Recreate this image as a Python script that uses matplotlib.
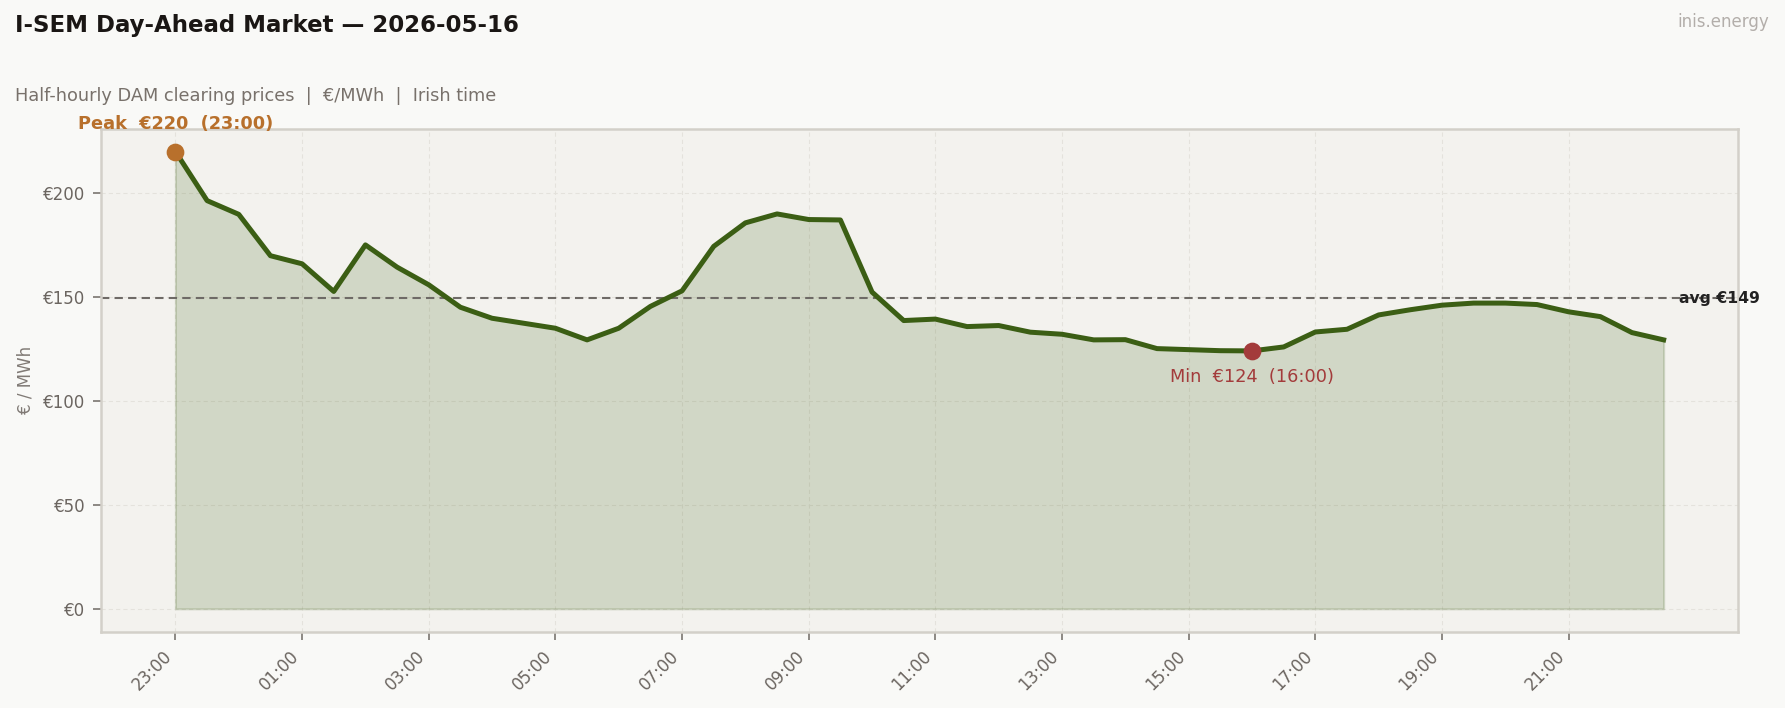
import numpy as np
import pandas as pd
import matplotlib
matplotlib.use("Agg")
import matplotlib.pyplot as plt
import matplotlib.dates as mdates
import matplotlib.transforms as mtransforms

# Half-hourly DAM prices (EUR/MWh), trading day starting 23:00
start = "2026-05-15 23:00"
prices = [
    220.0, 196.4, 189.8, 169.9, 166.0, 152.7, 175.1, 164.4, 155.9, 145.1,
    139.8, 137.4, 135.0, 129.4, 135.0, 145.5, 153.0, 174.4, 185.7, 190.0,
    187.3, 187.1, 152.4, 138.7, 139.4, 135.8, 136.3, 133.1, 132.1, 129.4,
    129.5, 125.2, 124.7, 124.2, 124.1, 126.0, 133.2, 134.5, 141.4, 143.9,
    146.1, 147.1, 147.1, 146.4, 142.9, 140.6, 132.9, 129.4,
]
title = "I-SEM Day-Ahead Market \u2014 2026-05-16"
subtitle = "Half-hourly DAM clearing prices  |  \u20ac/MWh  |  Irish time"

times = pd.date_range(start, periods=len(prices), freq="30min")
prices = np.array(prices)

# colours
bg = "#f9f9f7"
ax_bg = "#f3f2ee"
green = "#3b5e14"
peak_col = "#b8702c"
min_col = "#a33b3b"
txt_grey = "#6b6560"

fig, ax = plt.subplots(figsize=(11.9, 4.72), dpi=150)
fig.patch.set_facecolor(bg)
ax.set_facecolor(ax_bg)
fig.subplots_adjust(left=0.0566, right=0.9737, bottom=0.1078, top=0.8182)

ax.fill_between(times, prices, 0, color=green, alpha=0.18, linewidth=1.0)
ax.plot(times, prices, color=green, lw=2.4, zorder=3)

avg = prices.mean()
ax.axhline(avg, color="#6e6a66", lw=1.0, ls=(0, (4, 2.5)), zorder=2)
trans = mtransforms.blended_transform_factory(ax.transAxes, ax.transData)
ax.text(0.964, avg, f"avg \u20ac{avg:.0f}", transform=trans, ha="left", va="center",
        fontsize=7.5, fontweight="bold", color="#222222", clip_on=False, zorder=4)

# peak and min markers
ip = int(prices.argmax())
im = int(prices.argmin())
ax.plot(times[ip], prices[ip], "o", ms=7.5, color=peak_col, zorder=5)
ax.plot(times[im], prices[im], "o", ms=7.5, color=min_col, zorder=5)
ax.annotate(f"Peak  \u20ac{prices[ip]:.0f}  ({times[ip]:%H:%M})", (times[ip], prices[ip]),
            xytext=(0, 9), textcoords="offset points", ha="center", va="bottom",
            fontsize=8.5, fontweight="bold", color=peak_col, annotation_clip=False)
ax.annotate(f"Min  \u20ac{prices[im]:.0f}  ({times[im]:%H:%M})", (times[im], prices[im]),
            xytext=(0, -8), textcoords="offset points", ha="center", va="top",
            fontsize=8.5, color=min_col)

# axes styling: a tick every 2 hours from the first slot
ax.set_xticks(times[::4])
ax.xaxis.set_major_formatter(mdates.DateFormatter("%H:%M"))
plt.setp(ax.get_xticklabels(), rotation=45, ha="right")
ax.yaxis.set_major_formatter(plt.FuncFormatter(lambda v, p: f"\u20ac{v:.0f}"))
ax.tick_params(colors="#7a7570", labelcolor=txt_grey, labelsize=8, length=4, width=0.8)
ax.set_ylabel("\u20ac / MWh", fontsize=8, color="#807a75")
ax.grid(True, color="#e4e2dc", lw=0.5, ls=(0, (4, 3)))
ax.set_axisbelow(True)
for s in ax.spines.values():
    s.set_color("#d3d0c9")
    s.set_linewidth(1.2)

fig.text(0.0084, 0.955, title, fontsize=11, fontweight="bold", color="#1a1614", va="baseline")
fig.text(0.0084, 0.858, subtitle, fontsize=8.5, color="#78716b", va="baseline")
fig.text(0.991, 0.962, "inis.energy", fontsize=8, color="#b3aeaa", ha="right", va="baseline")

fig.savefig("out.png", dpi=150, facecolor=bg)
